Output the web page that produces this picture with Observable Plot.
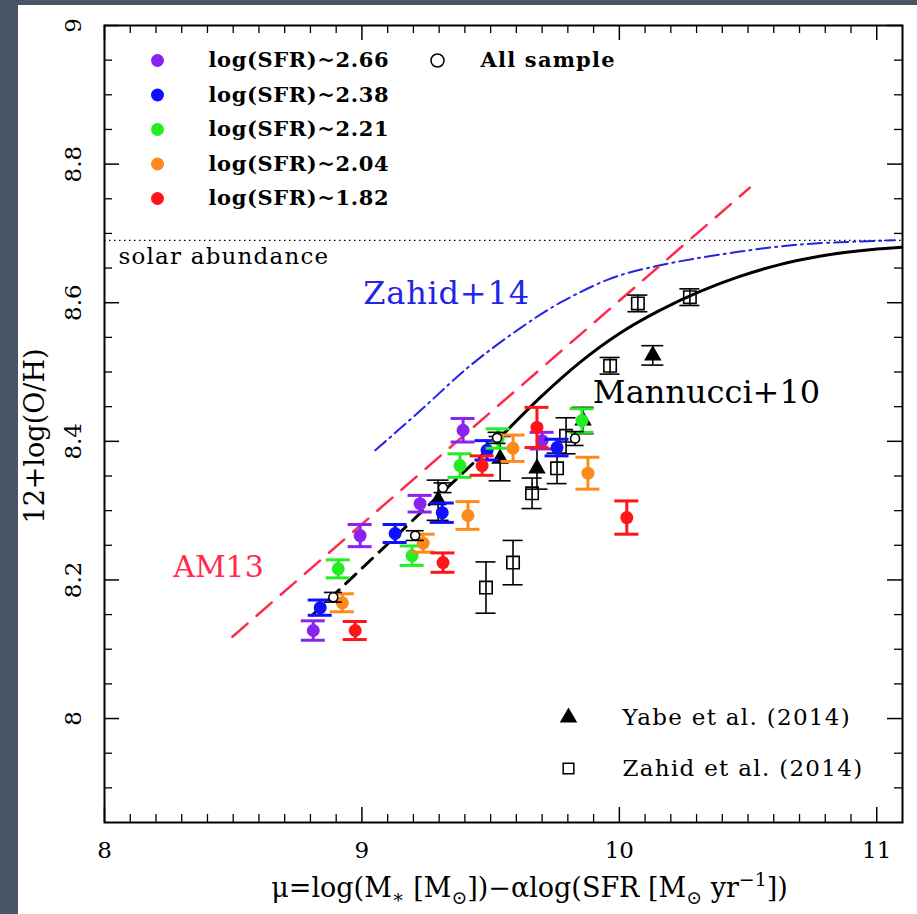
<!DOCTYPE html>
<html><head><meta charset="utf-8">
<script src="https://cdn.jsdelivr.net/npm/d3@7"></script>
<script src="https://cdn.jsdelivr.net/npm/@observablehq/plot@0.6"></script>
<style>
html,body{margin:0;padding:0;background:#fff;width:917px;height:914px;overflow:hidden}
#wrap{position:relative;width:917px;height:914px}
.band{position:absolute;background:#4a5467}
</style></head><body>
<div id="wrap"></div>
<script>
// ---- axis ticks & labels ----
const xMajor = [8, 9, 10, 11];
const xMajorLabels = ["8", "9", "10", "11"];
const yMajor = [8, 8.2, 8.4, 8.6, 8.8, 9];
const yMajorLabels = ["8", "8.2", "8.4", "8.6", "8.8", "9"];
const xLabelText = "μ=log(M∗ [M⊙])−αlog(SFR [M⊙ yr−1])";
const yLabelText = "12+log(O/H)";

// ---- SFR bins (colored points) ----
const binLabels = ["log(SFR)~2.66", "log(SFR)~2.38", "log(SFR)~2.21", "log(SFR)~2.04", "log(SFR)~1.82"];
const mu266 = [8.811, 8.993, 9.226, 9.393, 9.700];
const oh266 = [8.127, 8.264, 8.310, 8.416, 8.401];
const er266 = [0.014, 0.016, 0.012, 0.017, 0.012];
const mu238 = [8.838, 9.129, 9.312, 9.486, 9.758];
const oh238 = [8.160, 8.267, 8.297, 8.387, 8.391];
const er238 = [0.011, 0.013, 0.014, 0.014, 0.012];
const mu221 = [8.908, 9.195, 9.381, 9.529, 9.855];
const oh221 = [8.216, 8.235, 8.365, 8.404, 8.430];
const er221 = [0.013, 0.014, 0.017, 0.014, 0.017];
const mu204 = [8.924, 9.238, 9.412, 9.587, 9.878];
const oh204 = [8.167, 8.253, 8.293, 8.390, 8.354];
const er204 = [0.013, 0.013, 0.020, 0.019, 0.023];
const mu182 = [8.974, 9.315, 9.467, 9.680, 10.029];
const oh182 = [8.127, 8.225, 8.365, 8.420, 8.290];
const er182 = [0.013, 0.014, 0.014, 0.029, 0.024];

// ---- All sample ----
const allLabel = "All sample";
const muAll = [8.889, 9.207, 9.315, 9.525, 9.828];
const ohAll = [8.175, 8.264, 8.333, 8.405, 8.404];
const erAll = [0.007, 0.007, 0.007, 0.008, 0.010];

// ---- Yabe et al. (2014) ----
const yabeLabel = "Yabe et al. (2014)";
const muYabe = [9.296, 9.537, 9.680, 9.859, 10.130];
const ohYabe = [8.315, 8.375, 8.361, 8.430, 8.524];
const erYabe = [0.029, 0.032, 0.030, 0.019, 0.014];

// ---- Zahid et al. (2014) ----
const zahidLabel = "Zahid et al. (2014)";
const muZahid = [9.482, 9.587, 9.661, 9.758, 9.793, 9.964, 10.072, 10.274];
const ohZahid = [8.189, 8.225, 8.325, 8.361, 8.408, 8.509, 8.599, 8.608];
const erZahid = [0.037, 0.032, 0.022, 0.022, 0.026, 0.012, 0.012, 0.012];

// ---- relations ----
const mannDashMu = [8.807, 9.525];
const mannDashOH = [8.149, 8.401];
const mannMu = [9.525, 9.692, 9.847, 10.002, 10.157, 10.312, 10.468, 10.623, 10.778, 10.934, 11.097];
const mannOH = [8.401, 8.463, 8.514, 8.556, 8.589, 8.616, 8.638, 8.655, 8.667, 8.675, 8.680];
const am13Mu = [8.497, 9.5, 10.507];
const am13OH = [8.118, 8.442, 8.766];
const z14Mu = [9.052, 9.226, 9.420, 9.614, 9.770, 9.975, 10.158, 10.418, 10.701, 11.070];
const z14OH = [8.387, 8.444, 8.509, 8.563, 8.600, 8.636, 8.654, 8.671, 8.684, 8.690];
const solarOH = [8.69];
const solarLabel = "solar abundance";
const curveLabels = ["Zahid+14", "Mannucci+10", "AM13"];

// ---- styles ----
const binColors = ["#8a22f0", "#1010ff", "#22ee22", "#ff8a1c", "#ff1418"];
const FONT = "DejaVu Serif";
const XL_FS = 27;
const W = 917, H = 914, ML = 104, MR = 15, MT = 25, MB = 92;
const innerW = W - ML - MR, innerH = H - MT - MB;

const rows = (mu, oh, er) => mu.map((m, i) => ({x: m, y: oh[i], e: er[i]}));
const pts = (mu, oh) => mu.map((m, i) => ({x: m, y: oh[i]}));

function errorBars(data, color, cap, sw) {
  return [
    Plot.ruleX(data, {x: "x", y1: d => d.y - d.e, y2: d => d.y + d.e, stroke: color, strokeWidth: sw}),
    Plot.ruleY(data, {x1: "x", x2: "x", y: d => d.y + d.e, insetLeft: -cap, insetRight: -cap, stroke: color, strokeWidth: sw}),
    Plot.ruleY(data, {x1: "x", x2: "x", y: d => d.y - d.e, insetLeft: -cap, insetRight: -cap, stroke: color, strokeWidth: sw})
  ];
}

const bins = [
  rows(mu266, oh266, er266), rows(mu238, oh238, er238), rows(mu221, oh221, er221),
  rows(mu204, oh204, er204), rows(mu182, oh182, er182)
];
const allRows = rows(muAll, ohAll, erAll);
const yabeRows = rows(muYabe, ohYabe, erYabe);
const zahidRows = rows(muZahid, ohZahid, erZahid);

const xMinor = d3.range(81, 111).map(d => d / 10).filter(d => !xMajor.includes(d));
const yMinor = d3.range(158, 181).map(d => d / 20).filter(d => !yMajor.some(m => Math.abs(m - d) < 1e-9));

const marks = [
  // ticks (inward on all four sides)
  Plot.tickX(xMinor, {x: d => d, insetTop: innerH - 8, strokeWidth: 1.3}),
  Plot.tickX(xMinor, {x: d => d, insetBottom: innerH - 8, strokeWidth: 1.3}),
  Plot.tickX(xMajor, {x: d => d, insetTop: innerH - 15, strokeWidth: 1.5}),
  Plot.tickX(xMajor, {x: d => d, insetBottom: innerH - 15, strokeWidth: 1.5}),
  Plot.tickY(yMinor, {y: d => d, insetRight: innerW - 8, strokeWidth: 1.3}),
  Plot.tickY(yMinor, {y: d => d, insetLeft: innerW - 8, strokeWidth: 1.3}),
  Plot.tickY(yMajor, {y: d => d, insetRight: innerW - 15, strokeWidth: 1.5}),
  Plot.tickY(yMajor, {y: d => d, insetLeft: innerW - 15, strokeWidth: 1.5}),
  // tick labels
  Plot.text(xMajor, {x: d => d, text: (d, i) => xMajorLabels[i], frameAnchor: "bottom", dy: 28, fontSize: 23, textAnchor: "middle", lineAnchor: "middle"}),
  Plot.text(yMajor, {y: d => d, text: (d, i) => yMajorLabels[i], frameAnchor: "left", dx: -31, rotate: -90, fontSize: 23, textAnchor: "middle", lineAnchor: "middle"}),
  // axis labels
  Plot.text([xLabelText], {text: d => d, frameAnchor: "bottom", dy: 66, dx: 26, fontSize: XL_FS, textAnchor: "middle", lineAnchor: "middle"}),
  Plot.text([yLabelText], {text: d => d, frameAnchor: "left", dx: -69, dy: 12, rotate: -90, fontSize: 27, textAnchor: "middle", lineAnchor: "middle"}),
  // solar abundance
  Plot.ruleY(solarOH, {y: d => d, stroke: "#000", strokeWidth: 1.4, strokeDasharray: "1.5,3.5"}),
  Plot.text([solarLabel], {text: d => d, frameAnchor: "top-left", dx: 14, dy: 231, fontSize: 23, textAnchor: "start", lineAnchor: "middle"}),
  // relations
  Plot.line(pts(z14Mu, z14OH), {x: "x", y: "y", stroke: "#2424e6", strokeWidth: 2, strokeDasharray: "14,5,2,5", curve: "catmull-rom"}),
  Plot.line(pts(am13Mu, am13OH), {x: "x", y: "y", stroke: "#ff2a4c", strokeWidth: 2.5, strokeDasharray: "20,12"}),
  Plot.line(pts(mannDashMu, mannDashOH), {x: "x", y: "y", stroke: "#000", strokeWidth: 3, strokeDasharray: "14,9"}),
  Plot.line(pts(mannMu, mannOH), {x: "x", y: "y", stroke: "#000", strokeWidth: 3, curve: "catmull-rom"}),
  Plot.text([curveLabels[0]], {text: d => d, frameAnchor: "top-left", dx: 342, dy: 268, fontSize: 32, fill: "#2424e6", textAnchor: "middle", lineAnchor: "middle"}),
  Plot.text([curveLabels[1]], {text: d => d, frameAnchor: "top-left", dx: 602, dy: 367, fontSize: 32, fill: "#000", textAnchor: "middle", lineAnchor: "middle"}),
  Plot.text([curveLabels[2]], {text: d => d, frameAnchor: "top-left", dx: 114, dy: 542, fontSize: 30, fill: "#ff2a4c", textAnchor: "middle", lineAnchor: "middle"}),
];

// Zahid squares
marks.push(...errorBars(zahidRows, "#000", 10, 1.6));
marks.push(Plot.dot(zahidRows, {x: "x", y: "y", symbol: "square", r: 7, stroke: "#000", strokeWidth: 1.6, fill: "none"}));
// Yabe triangles
marks.push(...errorBars(yabeRows, "#000", 11, 1.6));
marks.push(Plot.dot(yabeRows, {x: "x", y: "y", symbol: "triangle", r: 6.5, fill: "#000", stroke: "none"}));
// colored bins
bins.forEach((b, i) => {
  marks.push(...errorBars(b, binColors[i], 12, 3));
  marks.push(Plot.dot(b, {x: "x", y: "y", r: 6.5, fill: binColors[i], stroke: "none"}));
});
// All sample
marks.push(...errorBars(allRows, "#000", 9, 1.6));
marks.push(Plot.dot(allRows, {x: "x", y: "y", r: 4.5, fill: "white", stroke: "#000", strokeWidth: 1.6}));

// legend top-left
binLabels.forEach((lab, i) => {
  marks.push(Plot.dot([lab], {frameAnchor: "top-left", dx: 53, dy: 35 + 34.5 * i, r: 6.5, fill: binColors[i], stroke: "none"}));
  marks.push(Plot.text([lab], {text: d => d, frameAnchor: "top-left", dx: 104, dy: 35 + 34.5 * i, fontSize: 21, fontWeight: "bold", textAnchor: "start", lineAnchor: "middle"}));
});
marks.push(Plot.dot([allLabel], {frameAnchor: "top-left", dx: 333, dy: 35, r: 6.5, fill: "none", stroke: "#000", strokeWidth: 1.5}));
marks.push(Plot.text([allLabel], {text: d => d, frameAnchor: "top-left", dx: 376, dy: 35, fontSize: 21, fontWeight: "bold", textAnchor: "start", lineAnchor: "middle"}));
// legend bottom-right
marks.push(Plot.dot([yabeLabel], {frameAnchor: "top-left", dx: 464, dy: 692, symbol: "triangle", r: 6.5, fill: "#000", stroke: "none"}));
marks.push(Plot.text([yabeLabel], {text: d => d, frameAnchor: "top-left", dx: 518, dy: 692, fontSize: 23, textAnchor: "start", lineAnchor: "middle"}));
marks.push(Plot.dot([zahidLabel], {frameAnchor: "top-left", dx: 464, dy: 743, symbol: "square", r: 6, fill: "none", stroke: "#000", strokeWidth: 1.5}));
marks.push(Plot.text([zahidLabel], {text: d => d, frameAnchor: "top-left", dx: 518, dy: 743, fontSize: 23, textAnchor: "start", lineAnchor: "middle"}));

marks.push(Plot.frame({stroke: "#000", strokeWidth: 2}));

const chart = Plot.plot({
  width: W, height: H,
  marginLeft: ML, marginRight: MR, marginTop: MT, marginBottom: MB,
  x: {domain: [8, 11.1], axis: null},
  y: {domain: [7.85, 9], axis: null},
  style: {background: "white", fontFamily: FONT, color: "#000", overflow: "visible"},
  marks
});

const svg = d3.select(chart);
function spacing(content, px) {
  svg.selectAll("text").filter(function () { return this.textContent === content; }).style("letter-spacing", px + "px");
}
spacing(solarLabel, 1.2);
binLabels.forEach(l => spacing(l, 0.6));
spacing(allLabel, 1.2);
spacing(yabeLabel, 1.3);
spacing(zahidLabel, 1.3);
spacing(curveLabels[0], 0.8);

// rich formatting of the x label (subscripts / superscript)
svg.selectAll("text").filter(function () { return this.textContent === xLabelText; }).each(function () {
  const t = d3.select(this);
  t.text(null);
  const parts = [["μ=log(M", 0, 1], ["∗", 6, 0.7], [" [M", -6, 1], ["⊙", 7, 0.7], ["])−αlog(SFR [M", -7, 1], ["⊙", 7, 0.7], [" yr", -7, 1], ["−1", -11, 0.7], ["])", 11, 1]];
  parts.forEach(([s, dy, k]) => {
    t.append("tspan").attr("dy", dy).attr("font-size", k === 1 ? null : (XL_FS * k)).text(s);
  });
});

const wrap = document.getElementById("wrap");
wrap.appendChild(chart);
const b1 = document.createElement("div"); b1.className = "band";
b1.style.cssText = "left:0;top:0;width:18px;height:914px";
const b2 = document.createElement("div"); b2.className = "band";
b2.style.cssText = "left:0;top:0;width:917px;height:5px";
wrap.appendChild(b1); wrap.appendChild(b2);
</script>
</body></html>
